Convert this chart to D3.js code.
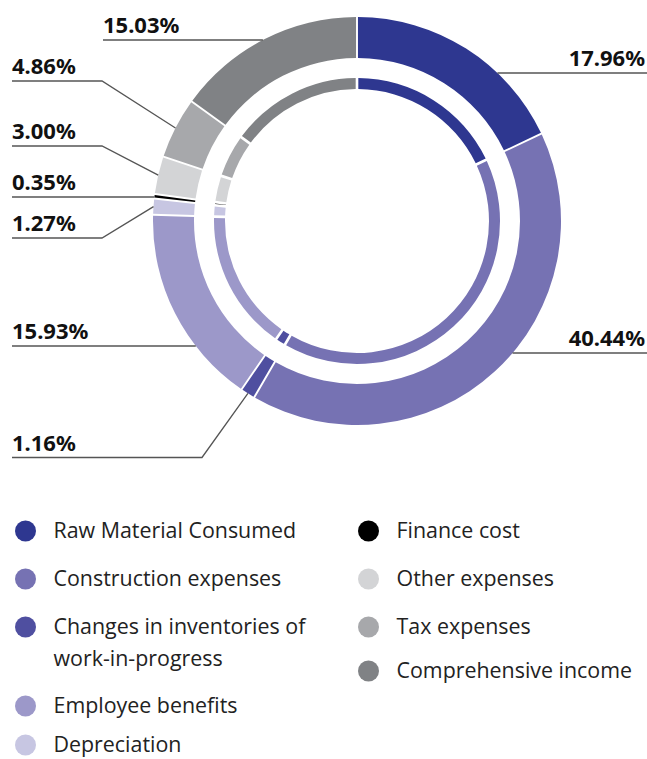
<!DOCTYPE html>
<html>
<head>
<meta charset="utf-8">
<script src="https://cdn.jsdelivr.net/npm/d3@7"></script>
<style>
  body { margin: 0; background: #fff; }
  svg { display: block; }
  .pct { font-family: "Noto Sans", sans-serif; font-weight: 700; font-size: 22px; fill: #111; }
  .leg { font-family: "Open Sans", sans-serif; font-size: 21.4px; fill: #222; }
</style>
</head>
<body>
<svg width="647" height="759"></svg>
<script>
// data
var categories = ["Raw Material Consumed", "Construction expenses", "Changes in inventories of work-in-progress",
    "Employee benefits", "Depreciation", "Finance cost", "Other expenses", "Tax expenses", "Comprehensive income"];
var values = [17.96, 40.44, 1.16, 15.93, 1.27, 0.35, 3.00, 4.86, 15.03];
var labels = ["17.96%", "40.44%", "1.16%", "15.93%", "1.27%", "0.35%", "3.00%", "4.86%", "15.03%"];
var colors = ["#2e3790", "#7672b3", "#4f4fa0", "#9c98c9", "#c7c6e2", "#000000", "#d3d4d6", "#a7a8ab", "#808285"];

// where each label sits (x of text, y of underline, elbow x or null for straight line)
var labelLayout = [
    {side: "right", x: 645, lineY: 73, elbow: null},
    {side: "right", x: 645, lineY: 353, elbow: null},
    {side: "left", x: 12, lineY: 457.5, elbow: 202},
    {side: "left", x: 12, lineY: 346, elbow: null},
    {side: "left", x: 12, lineY: 238, elbow: 102},
    {side: "left", x: 12, lineY: 197, elbow: null},
    {side: "left", x: 12, lineY: 146, elbow: 102},
    {side: "left", x: 12, lineY: 81, elbow: 102},
    {side: "left", x: 103, lineY: 40, elbow: null}
];

var svg = d3.select("svg"),
    cx = 357, cy = 221,
    rOuter = 204, rInner = 163,
    ringOuter = 143, ringInner = 132;

var pie = d3.pie().sort(null).value(function(d) { return d; });
var arcs = pie(values);

var bigArc = d3.arc().innerRadius(rInner).outerRadius(rOuter).padAngle(0.016).padRadius(120);
var thinArc = d3.arc().innerRadius(ringInner).outerRadius(ringOuter).padAngle(0.022).padRadius(120);

var g = svg.append("g").attr("transform", "translate(" + cx + "," + cy + ")");

g.selectAll(".big").data(arcs).enter().append("path")
    .attr("class", "big")
    .attr("d", bigArc)
    .attr("fill", function(d, i) { return colors[i]; });

g.selectAll(".thin").data(arcs).enter().append("path")
    .attr("class", "thin")
    .attr("d", thinArc)
    .attr("fill", function(d, i) { return colors[i]; });

// leader lines + labels
arcs.forEach(function(a, i) {
    var lay = labelLayout[i];
    var pts;
    if (lay.elbow === null) {
        // straight line hitting the ring edge at its own height
        var dy = lay.lineY - cy;
        var dx = Math.sqrt(rOuter * rOuter - dy * dy);
        var ex = lay.side === "right" ? cx + dx : cx - dx;
        pts = lay.side === "right" ? [[647, lay.lineY], [ex, lay.lineY]] : [[lay.x, lay.lineY], [ex, lay.lineY]];
    } else {
        var mid = (a.startAngle + a.endAngle) / 2;
        var px = cx + rOuter * Math.sin(mid),
            py = cy - rOuter * Math.cos(mid);
        pts = [[lay.x, lay.lineY], [lay.elbow, lay.lineY], [px, py]];
    }
    svg.append("path")
        .attr("d", d3.line()(pts))
        .attr("fill", "none")
        .attr("stroke", "#555")
        .attr("stroke-width", 1.3);

    svg.append("text")
        .attr("class", "pct")
        .attr("x", lay.x)
        .attr("y", lay.lineY - 7)
        .attr("text-anchor", lay.side === "right" ? "end" : "start")
        .text(labels[i]);
});

// legend
var legLeft = [0, 1, 2, 3, 4],
    legRight = [5, 6, 7, 8];

function legRow(idx, x, y) {
    svg.append("circle").attr("cx", x).attr("cy", y).attr("r", 10.5).attr("fill", colors[idx]);
    var t = svg.append("text").attr("class", "leg").attr("x", x + 28).attr("y", y + 7);
    var name = categories[idx];
    if (idx === 2) {
        t.append("tspan").attr("x", x + 28).text("Changes in inventories of");
        t.append("tspan").attr("x", x + 28).attr("dy", 32).text("work-in-progress");
    } else {
        t.text(name);
    }
}

var leftY = [531, 579, 627, 706, 745];
var rightY = [531, 579, 627, 671];
legLeft.forEach(function(idx, k) { legRow(idx, 25.5, leftY[k]); });
legRight.forEach(function(idx, k) { legRow(idx, 368.5, rightY[k]); });
</script>
</body>
</html>
